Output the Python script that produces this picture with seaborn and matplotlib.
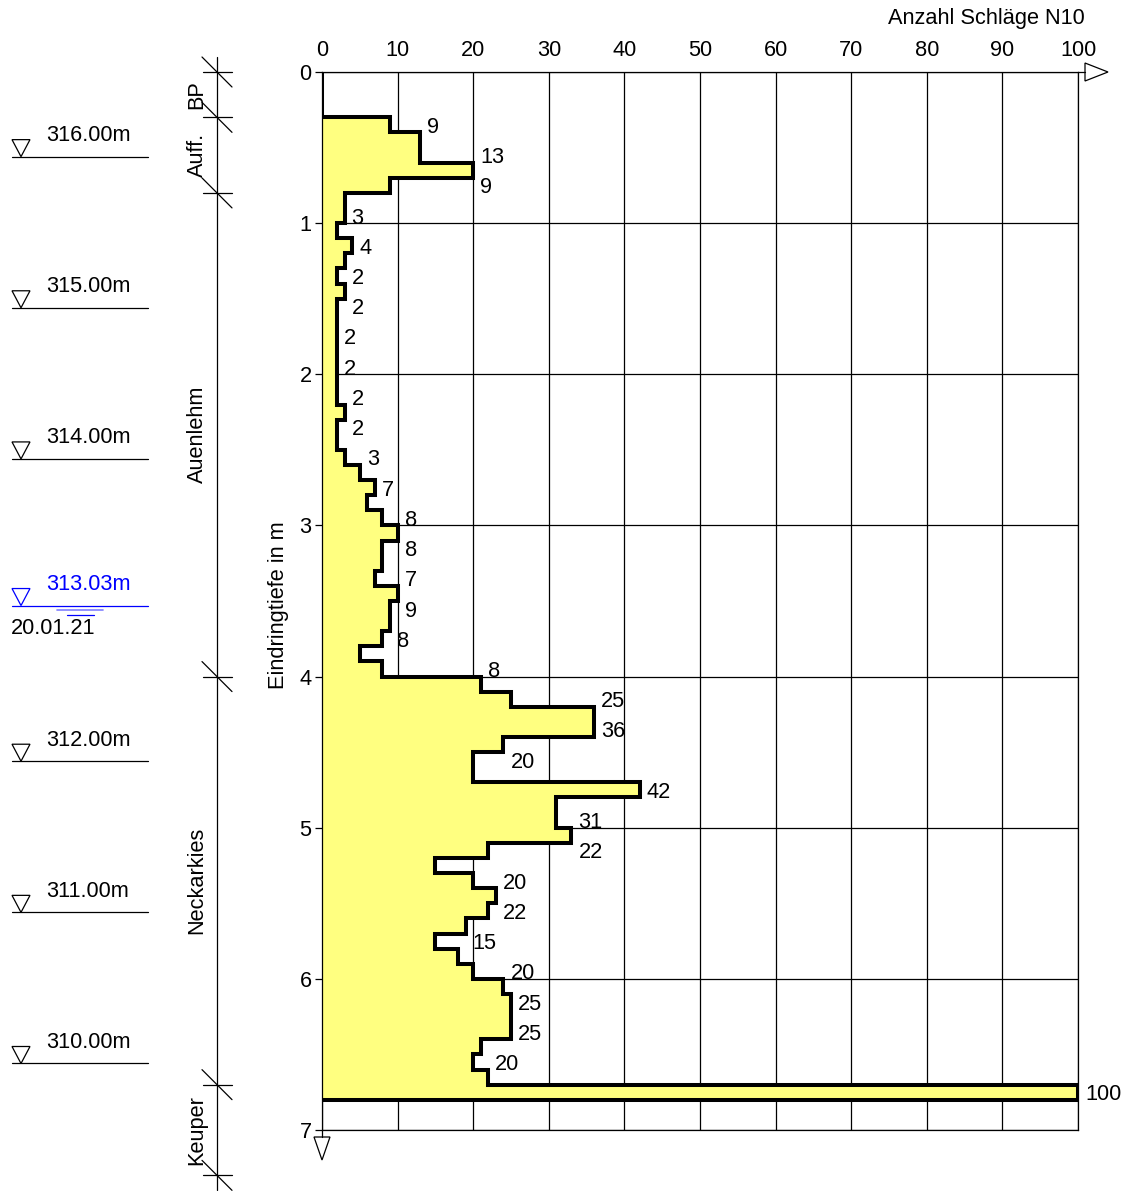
import numpy as np
import pandas as pd
import matplotlib
matplotlib.use("Agg")
import matplotlib.pyplot as plt
import seaborn as sns
from matplotlib.patches import Polygon

# Rammsondierung: Schlagzahlen N10 je 10 cm, beginnend bei 0.30 m
start_depth = 0.3
step = 0.1
blows = [9, 13, 13, 20, 9, 3, 3, 2, 4, 3, 2, 3, 2, 2, 2, 2, 2, 2, 2, 3,
         2, 2, 3, 5, 7, 6, 8, 10, 8, 8, 7, 10, 9, 9, 8, 5, 8, 21, 25, 36,
         36, 24, 20, 20, 42, 31, 31, 33, 22, 15, 20, 23, 22, 19, 15, 18, 20, 24, 25, 25,
         25, 21, 20, 22, 100]

x_ticks = [0, 10, 20, 30, 40, 50, 60, 70, 80, 90, 100]
y_ticks = [0, 1, 2, 3, 4, 5, 6, 7]

# Schichten
layer_names = ["BP", "Auff.", "Auenlehm", "Neckarkies", "Keuper"]
layer_bounds = [0.0, 0.3, 0.8, 4.0, 6.7, 7.3]

# Höhenbezug
ground_level = 316.56
elevations = [316.0, 315.0, 314.0, 312.0, 311.0, 310.0]
water_level = 313.03
water_date = "20.01.21"

# ---------------------------------------------------------------
sns.set_theme(style="white")
plt.rcParams["font.family"] = ["Liberation Sans", "DejaVu Sans"]
FS = 15.7

W, H = 1131, 1191
fig = plt.figure(figsize=(W / 100, H / 100), dpi=100)

left_px, right_px, top_px, bot_px = 322, 1078, 72, 1130
ax_pos = [left_px / W, (H - bot_px) / H, (right_px - left_px) / W, (bot_px - top_px) / H]
px_per_m = (bot_px - top_px) / 7.0
px_per_n = (right_px - left_px) / 100.0

# left-hand column (elevations + layers): x in pixels, y in depth
side = fig.add_axes([0, ax_pos[1], left_px / W, ax_pos[3]])
side.set_xlim(0, left_px)
side.set_ylim(7, 0)
side.axis("off")

ax = fig.add_axes(ax_pos)

# step profile built from the blow counts
n = np.array(blows, dtype=float)
tops = start_depth + step * np.arange(len(n))
bots = tops + step
xs = [0.0, 0.0]
ys = [0.0, start_depth]
for v, t, b in zip(n, tops, bots):
    xs += [v, v]
    ys += [t, b]
xs.append(0.0)
ys.append(bots[-1])
prof = pd.DataFrame({"N10": xs, "Tiefe": ys})

fill = prof.iloc[1:]
ax.fill_betweenx(fill["Tiefe"], 0, fill["N10"], color="#FFFF80", lw=0, zorder=1)
sns.lineplot(data=prof, x="N10", y="Tiefe", sort=False, estimator=None,
             color="black", lw=2.9, ax=ax, zorder=3)
line = ax.lines[-1]
line.set_solid_joinstyle("miter")
line.set_solid_capstyle("butt")

# grid
ax.set_xlim(0, 100)
ax.set_ylim(7, 0)
ax.set_xticks(x_ticks)
ax.set_yticks(y_ticks)
ax.grid(True, color="black", lw=0.9)
ax.set_axisbelow(True)
for s in ax.spines.values():
    s.set_color("black")
    s.set_linewidth(0.9)
ax.xaxis.tick_top()
ax.tick_params(axis="x", length=0, pad=8, labelsize=FS, colors="black")
ax.tick_params(axis="y", left=True, length=5, width=0.9, pad=2.5, labelsize=FS, colors="black")
ax.set_xlabel("")
ax.set_ylabel("Eindringtiefe in m", fontsize=FS, color="black", va="center")
ax.yaxis.set_label_coords(-0.058, 0.496)
ax.text(1.009, 1.051, "Anzahl Schläge N10", transform=ax.transAxes,
        ha="right", va="center", fontsize=FS, color="black")

# axis arrows
dx_arrow = 1.0 / px_per_n
dy_arrow = 1.0 / px_per_m
ax.plot([100, 100 + 7 * dx_arrow], [0, 0], color="black", lw=0.9, clip_on=False)
ax.add_patch(Polygon([[100 + 7 * dx_arrow, -9 * dy_arrow], [100 + 7 * dx_arrow, 9 * dy_arrow],
                      [100 + 30 * dx_arrow, 0]], closed=True, fill=False,
                     ec="black", lw=0.9, clip_on=False))
ax.plot([0, 0], [7, 7 + 7 * dy_arrow], color="black", lw=0.9, clip_on=False)
ax.add_patch(Polygon([[-8 * dx_arrow, 7 + 7 * dy_arrow], [8 * dx_arrow, 7 + 7 * dy_arrow],
                      [0, 7 + 30 * dy_arrow]], closed=True, fill=False,
                     ec="black", lw=0.9, clip_on=False))

# value labels every 20 cm, right of the local maximum
for j in range(0, len(n), 2):
    lo, hi = max(j - 1, 0), min(j + 1, len(n) - 1)
    xpos = n[lo:hi + 1].max()
    ax.annotate(f"{int(n[j])}", xy=(xpos, tops[j] + step / 2), xytext=(5, 0),
                textcoords="offset points", ha="left", va="center_baseline",
                fontsize=FS, color="black", annotation_clip=False, zorder=4)

# elevation markers
def level_marker(depth, label, color, text_color):
    side.plot([12, 148], [depth, depth], color=color, lw=0.9, clip_on=False)
    side.add_patch(Polygon([[12, depth - 17 / px_per_m], [30, depth - 17 / px_per_m],
                            [21, depth]], closed=True, fill=False, ec=color, lw=0.9,
                           clip_on=False))
    side.text(46, depth - 21 / px_per_m, label, ha="left", va="center",
              fontsize=FS, color=text_color)

for e in elevations:
    level_marker(ground_level - e, f"{e:.2f}m", "black", "black")

wd = ground_level - water_level
level_marker(wd, f"{water_level:.2f}m", "#0000FF", "#0000FF")
side.plot([57, 103], [wd + 4.5 / px_per_m] * 2, color="#7F7FFF", lw=1.2)
side.plot([67, 94], [wd + 9 / px_per_m] * 2, color="#0000FF", lw=0.9)
side.text(11, wd + 23 / px_per_m, water_date, ha="left", va="center",
          fontsize=FS, color="black")

# layer column
col_x = 217
side.plot([col_x, col_x], [-15 / px_per_m, 7.4], color="black", lw=0.9, clip_on=False)
for d in layer_bounds:
    side.plot([203, 232], [d, d], color="black", lw=0.9, clip_on=False)
    side.plot([202, 232], [d - 15 / px_per_m, d + 15 / px_per_m], color="black",
              lw=0.9, clip_on=False)
for name, a, b in zip(layer_names, layer_bounds[:-1], layer_bounds[1:]):
    side.text(197, (a + b) / 2, name, rotation=90, ha="center", va="center",
              fontsize=FS, color="black", clip_on=False)

fig.savefig("out.png", dpi=100)
